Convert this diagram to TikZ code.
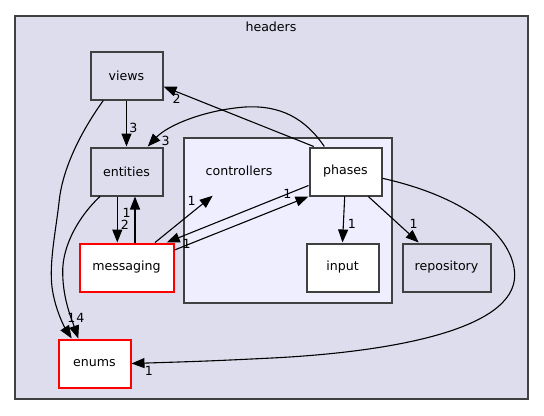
\documentclass[tikz,border=0pt]{standalone}
\usepackage{fontspec}
\setmainfont{DejaVu Sans}
\usetikzlibrary{arrows.meta,calc}
\definecolor{hdrfill}{HTML}{DDDDEE}
\definecolor{ctrlfill}{HTML}{EEEEFF}
\definecolor{bord}{HTML}{404040}
\definecolor{redb}{HTML}{FF0000}
\begin{document}
\begin{tikzpicture}[x=1bp,y=-1bp,
  txt/.style={font=\fontsize{12.6bp}{15bp}\selectfont},
  box/.style={txt, draw=bord, line width=2bp, minimum width=72bp, minimum height=48bp, inner sep=0pt},
  greybox/.style={box, fill=hdrfill},
  whitebox/.style={box, fill=white},
  redbox/.style={box, fill=white, draw=redb},
  cluster/.style={draw=bord, line width=2bp, inner sep=0pt},
  lbl/.style={txt, inner sep=0pt},
  dep/.style={draw=black, line width=1.1bp, -{Triangle[length=13bp,width=10bp]}}
]
\useasboundingbox (0,0) rectangle (544,415);
% clusters
\node[cluster, fill=hdrfill, minimum width=512bp, minimum height=383bp] (headers) at (271.5,207) {};
\node[lbl] (headerslbl) at (271,27) {headers};
\node[cluster, fill=ctrlfill, minimum width=208bp, minimum height=165bp] (controllers) at (287.5,220) {};
\node[lbl] (ctrllbl) at (239,171) {controllers};
% nodes
\node[greybox] (views) at (126.5,75.5) {views};
\node[greybox] (entities) at (126.5,171.5) {entities};
\node[whitebox] (phases) at (345.5,171.5) {phases};
\node[whitebox] (input) at (342.5,267.5) {input};
\node[greybox, minimum width=88bp] (repository) at (446.5,267.5) {repository};
\node[redbox, minimum width=94bp] (messaging) at (126.5,267.5) {messaging};
\node[redbox] (enums) at (94.5,363.5) {enums};
\coordinate (ctrlend) at (212.7,195.7);
% edges
\draw[dep] (views.south) -- (entities.north);
\node[lbl] (l1) at (133.5,128) {3};
\draw[dep] ([xshift=-23.2bp]views.south) .. controls (75,140) and (62,175) .. (59.3,200)
   .. controls (56,230) and (49,262) .. (52,287) .. controls (55,310) and (65,328) .. ([xshift=-22.8bp]enums.north);
\node[lbl] (l2) at (71.5,318) {1};
\draw[dep] ([xshift=-26.5bp]entities.south) .. controls (80,215) and (62,245) .. (62.7,273)
   .. controls (63,300) and (72,320) .. ([xshift=-16.2bp]enums.north);
\node[lbl] (l3) at (80.5,318) {4};
\draw[dep] ([xshift=-9.2bp]entities.south) -- ([xshift=-9.2bp]messaging.north);
\node[lbl] (l4) at (125,224.5) {2};
\draw[dep] ([xshift=8.5bp]messaging.north) -- ([xshift=8.5bp]entities.south);
\node[lbl] (l5) at (126.7,213) {1};
\draw[dep] ([xshift=28.5bp]messaging.north) -- (ctrlend);
\node[lbl] (l6) at (191.7,200.7) {1};
\draw[dep] ([yshift=-14bp]phases.west) -- ([xshift=40.2bp]messaging.north);
\node[lbl] (l7) at (186.7,243.5) {1};
\draw[dep] ([yshift=17.5bp]messaging.east) -- (phases.south west);
\node[lbl] (l8) at (287.3,194.3) {1};
\draw[dep] ([xshift=5.2bp]phases.north west) -- ([yshift=-11bp]views.east);
\node[lbl] (l9) at (176.7,99) {2};
\draw[dep] ([xshift=15.8bp]phases.north west) .. controls (305,118) and (280,105) .. (245,107)
   .. controls (205,110) and (168,125) .. ([xshift=-15.8bp]entities.north east);
\node[lbl] (l10) at (165.7,141) {3};
\draw[dep] ([xshift=-0.8bp]phases.south) -- (input.north);
\node[lbl] (l11) at (352,224.3) {1};
\draw[dep] ([xshift=22.8bp]phases.south) -- ([xshift=-27.8bp]repository.north);
\node[lbl] (l12) at (413.7,224.3) {1};
\draw[dep] ([yshift=-6.8bp]phases.east) .. controls (470,198) and (514,238) .. (514.7,275)
   .. controls (515,330) and (390,352) .. (272,358) .. controls (210,361) .. (enums.east);
\node[lbl] (l13) at (149,370.7) {1};
\end{tikzpicture}
\end{document}
